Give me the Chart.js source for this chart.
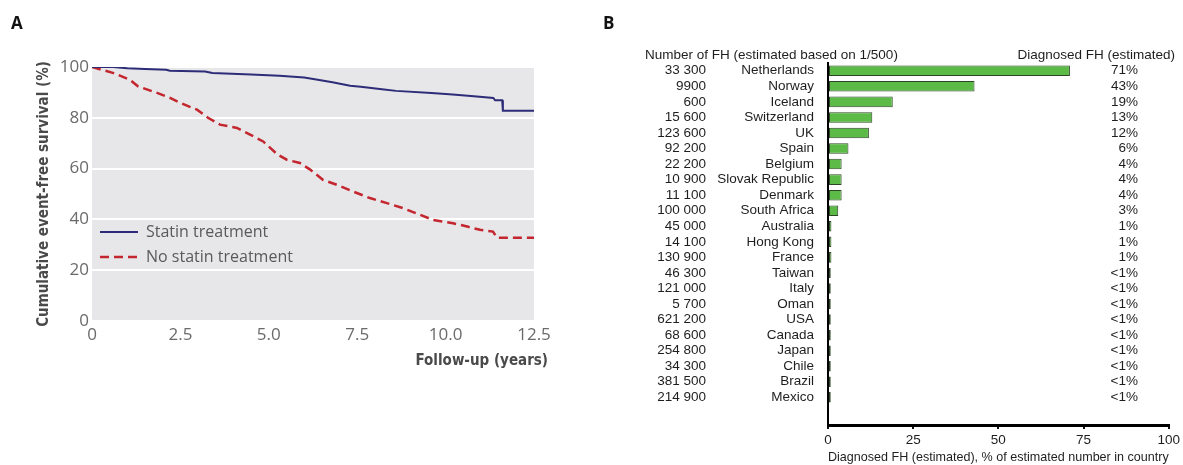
<!DOCTYPE html>
<html>
<head>
<meta charset="utf-8">
<title>FH: statin survival and diagnosis by country</title>
<script src="https://cdn.jsdelivr.net/npm/chart.js@4.4.1/dist/chart.umd.min.js"></script>
<style>
  html, body { margin: 0; padding: 0; background: #fff; }
  body { width: 1183px; height: 465px; position: relative; overflow: hidden; }
  canvas { position: absolute; top: 0; }
  #survivalChart { left: 0; }
  #countryChart { left: 600px; }
</style>
</head>
<body>
<canvas id="survivalChart" width="580" height="465"></canvas>
<canvas id="countryChart" width="583" height="465"></canvas>
<script>
// ---- Panel A: event-free survival (Kaplan-Meier) ----
const followUpStatin = [0, 0.6, 1.0, 1.5, 2.1, 2.2, 3.2, 3.4, 4.5, 5.3, 6.0, 6.3, 6.8, 7.3, 7.6, 8.2, 8.6, 9.6, 10.2, 10.8, 11.35, 11.4, 11.6, 11.62, 12.5];
const survivalStatin = [100, 100, 99.5, 99.2, 98.9, 98.5, 98.2, 97.6, 97.0, 96.6, 95.9, 95.2, 94.0, 92.6, 92.2, 91.2, 90.6, 89.8, 89.2, 88.5, 87.8, 86.9, 86.9, 82.8, 82.8];

const followUpNoStatin = [0, 0.59, 1.07, 1.3, 1.84, 2.21, 2.49, 2.97, 3.28, 3.62, 4.1, 4.47, 4.84, 5.25, 5.51, 5.88, 6.17, 6.53, 6.93, 7.38, 7.86, 8.34, 8.8, 9.28, 9.64, 10.21, 10.61, 10.97, 11.34, 11.45, 12.5];
const survivalNoStatin = [100, 97.7, 95.0, 92.4, 89.8, 87.8, 85.9, 83.2, 80.0, 77.3, 76.0, 73.4, 70.7, 65.5, 63.5, 62.2, 59.6, 55.6, 53.6, 51.0, 48.4, 46.4, 44.4, 41.8, 39.8, 38.5, 37.2, 35.9, 35.2, 32.8, 32.8];

const seriesNames = ['Statin treatment', 'No statin treatment'];
const yearTicks = [0, 2.5, 5, 7.5, 10, 12.5];
const survivalTicks = [0, 20, 40, 60, 80, 100];

// ---- Panel B: diagnosed FH by country ----
const countries = ['Netherlands', 'Norway', 'Iceland', 'Switzerland', 'UK', 'Spain', 'Belgium', 'Slovak Republic', 'Denmark', 'South Africa', 'Australia', 'Hong Kong', 'France', 'Taiwan', 'Italy', 'Oman', 'USA', 'Canada', 'Japan', 'Chile', 'Brazil', 'Mexico'];
const fhEstimated = ['33 300', '9900', '600', '15 600', '123 600', '92 200', '22 200', '10 900', '11 100', '100 000', '45 000', '14 100', '130 900', '46 300', '121 000', '5 700', '621 200', '68 600', '254 800', '34 300', '381 500', '214 900'];
const diagnosedPct = [71, 43, 19, 13, 12, 6, 4, 4, 4, 3, 1, 1, 1, 0.8, 0.8, 0.8, 0.8, 0.8, 0.8, 0.8, 0.8, 0.8];
const pctTicks = [0, 25, 50, 75, 100];

const humanist = '"Open Sans", "Noto Sans", sans-serif';
const narrowBold = '"Liberation Sans Narrow", "DejaVu Sans Condensed", sans-serif';
const arial = '"Liberation Sans", Arial, sans-serif';

const toPoints = (xs, ys) => xs.map((x, i) => ({ x: x, y: ys[i] }));

// grey panel, legend inside the plot, x-axis caption and panel letter
const survivalDecor = {
  id: 'survivalDecor',
  beforeDraw(chart) {
    const { ctx, chartArea: a } = chart;
    ctx.save();
    ctx.fillStyle = '#e7e6e8';
    ctx.fillRect(a.left, a.top, a.right - a.left, a.bottom - a.top);
    ctx.restore();
  },
  afterDraw(chart) {
    const { ctx } = chart;
    ctx.save();
    ctx.fillStyle = '#111';
    ctx.font = 'bold 17px ' + humanist;
    ctx.textBaseline = 'alphabetic';
    ctx.fillText('A', 11, 29);

    ctx.textBaseline = 'middle';
    chart.data.datasets.forEach((ds, i) => {
      const y = 232 + i * 25;
      ctx.strokeStyle = ds.borderColor;
      ctx.lineWidth = ds.borderWidth;
      ctx.setLineDash(ds.borderDash || []);
      ctx.beginPath();
      ctx.moveTo(100, y);
      ctx.lineTo(138, y);
      ctx.stroke();
      ctx.setLineDash([]);
      ctx.fillStyle = '#5a5a5a';
      ctx.font = '16px ' + humanist;
      ctx.fillText(ds.label, 146, y);
    });

    ctx.fillStyle = '#4a4a4a';
    ctx.font = 'bold 15px ' + narrowBold;
    ctx.textAlign = 'right';
    ctx.fillText('Follow-up (years)', 548, 361);
    ctx.restore();
  }
};

new Chart(document.getElementById('survivalChart'), {
  type: 'line',
  data: {
    datasets: [{
      label: seriesNames[0],
      data: toPoints(followUpStatin, survivalStatin),
      borderColor: '#2d2c78',
      borderWidth: 2,
      pointRadius: 0,
      tension: 0
    }, {
      label: seriesNames[1],
      data: toPoints(followUpNoStatin, survivalNoStatin),
      borderColor: '#c3262e',
      borderWidth: 2.5,
      borderDash: [9, 5],
      pointRadius: 0,
      tension: 0
    }]
  },
  options: {
    responsive: false,
    animation: false,
    layout: { padding: { top: 67, left: 35, right: 46, bottom: 0 } },
    plugins: { legend: { display: false }, tooltip: { enabled: false } },
    scales: {
      x: {
        type: 'linear',
        min: 0,
        max: 12.5,
        afterBuildTicks: s => { s.ticks = yearTicks.map(v => ({ value: v })); },
        afterFit: s => { s.height = 144; },
        grid: { display: false, drawTicks: false },
        border: { display: false },
        ticks: {
          color: '#6a6a6a',
          font: { family: humanist, size: 17 },
          padding: 4,
          maxRotation: 0,
          callback: v => v === 0 ? '0' : v.toFixed(1)
        }
      },
      y: {
        min: 0,
        max: 100,
        afterBuildTicks: s => { s.ticks = survivalTicks.map(v => ({ value: v })); },
        afterFit: s => { s.width = 57; },
        grid: { color: '#ffffff', lineWidth: 2, drawTicks: false },
        border: { display: false },
        ticks: {
          color: '#6a6a6a',
          font: { family: humanist, size: 17 },
          padding: 3
        },
        title: {
          display: true,
          text: 'Cumulative event-free survival (%)',
          color: '#4a4a4a',
          font: { family: narrowBold, size: 15, weight: 'bold' },
          padding: 0
        }
      }
    }
  },
  plugins: [survivalDecor]
});

// count column, percentage column, headers and panel letter
const countryColumns = {
  id: 'countryColumns',
  afterDraw(chart) {
    const { ctx } = chart;
    const yScale = chart.scales.y;
    ctx.save();
    ctx.fillStyle = '#111';
    ctx.font = 'bold 17px ' + humanist;
    ctx.fillText('B', 3, 29);

    ctx.fillStyle = '#1e1e1e';
    ctx.font = '13.5px ' + arial;
    ctx.textBaseline = 'middle';
    ctx.textAlign = 'left';
    ctx.fillText('Number of FH (estimated based on 1/500)', 45, 55);
    ctx.textAlign = 'right';
    ctx.fillText('Diagnosed FH (estimated)', 575, 55);

    countries.forEach((c, i) => {
      const y = yScale.getPixelForValue(i);
      ctx.fillText(fhEstimated[i], 106, y);
      const v = diagnosedPct[i];
      ctx.fillText(v < 1 ? '<1%' : v + '%', 538, y);
    });
    ctx.restore();
  }
};

new Chart(document.getElementById('countryChart'), {
  type: 'bar',
  data: {
    datasets: [{
      data: diagnosedPct.map((v, i) => ({ x: v, y: i })),
      backgroundColor: '#5cbb46',
      borderColor: '#2e4427',
      borderWidth: 1,
      borderSkipped: false,
      barPercentage: 0.85,
      categoryPercentage: 0.8
    }]
  },
  options: {
    indexAxis: 'y',
    responsive: false,
    animation: false,
    layout: { padding: { top: 63, left: 0, right: 13, bottom: 0 } },
    plugins: { legend: { display: false }, tooltip: { enabled: false } },
    scales: {
      x: {
        type: 'linear',
        min: 0,
        max: 100,
        afterBuildTicks: s => { s.ticks = pctTicks.map(v => ({ value: v })); },
        afterFit: s => { s.height = 40; },
        grid: { display: true, drawOnChartArea: false, tickLength: 4, color: '#111', lineWidth: 2 },
        border: { color: '#000', width: 3 },
        ticks: {
          color: '#1e1e1e',
          font: { family: arial, size: 13.5 },
          padding: 3,
          maxRotation: 0
        },
        title: {
          display: true,
          text: 'Diagnosed FH (estimated), % of estimated number in country',
          color: '#1e1e1e',
          font: { family: arial, size: 13.5 },
          padding: 0
        }
      },
      y: {
        type: 'linear',
        reverse: true,
        offset: false,
        bounds: 'data',
        min: -0.5,
        max: countries.length + 0.78,
        afterBuildTicks: s => { s.ticks = countries.map((c, i) => ({ value: i })); },
        afterFit: s => { s.width = 228; },
        grid: { display: false, offset: false },
        border: { color: '#000', width: 2 },
        ticks: {
          color: '#1e1e1e',
          font: { family: arial, size: 13.5 },
          padding: 6,
          autoSkip: false,
          callback: v => countries[v]
        }
      }
    }
  },
  plugins: [countryColumns]
});
</script>
</body>
</html>
